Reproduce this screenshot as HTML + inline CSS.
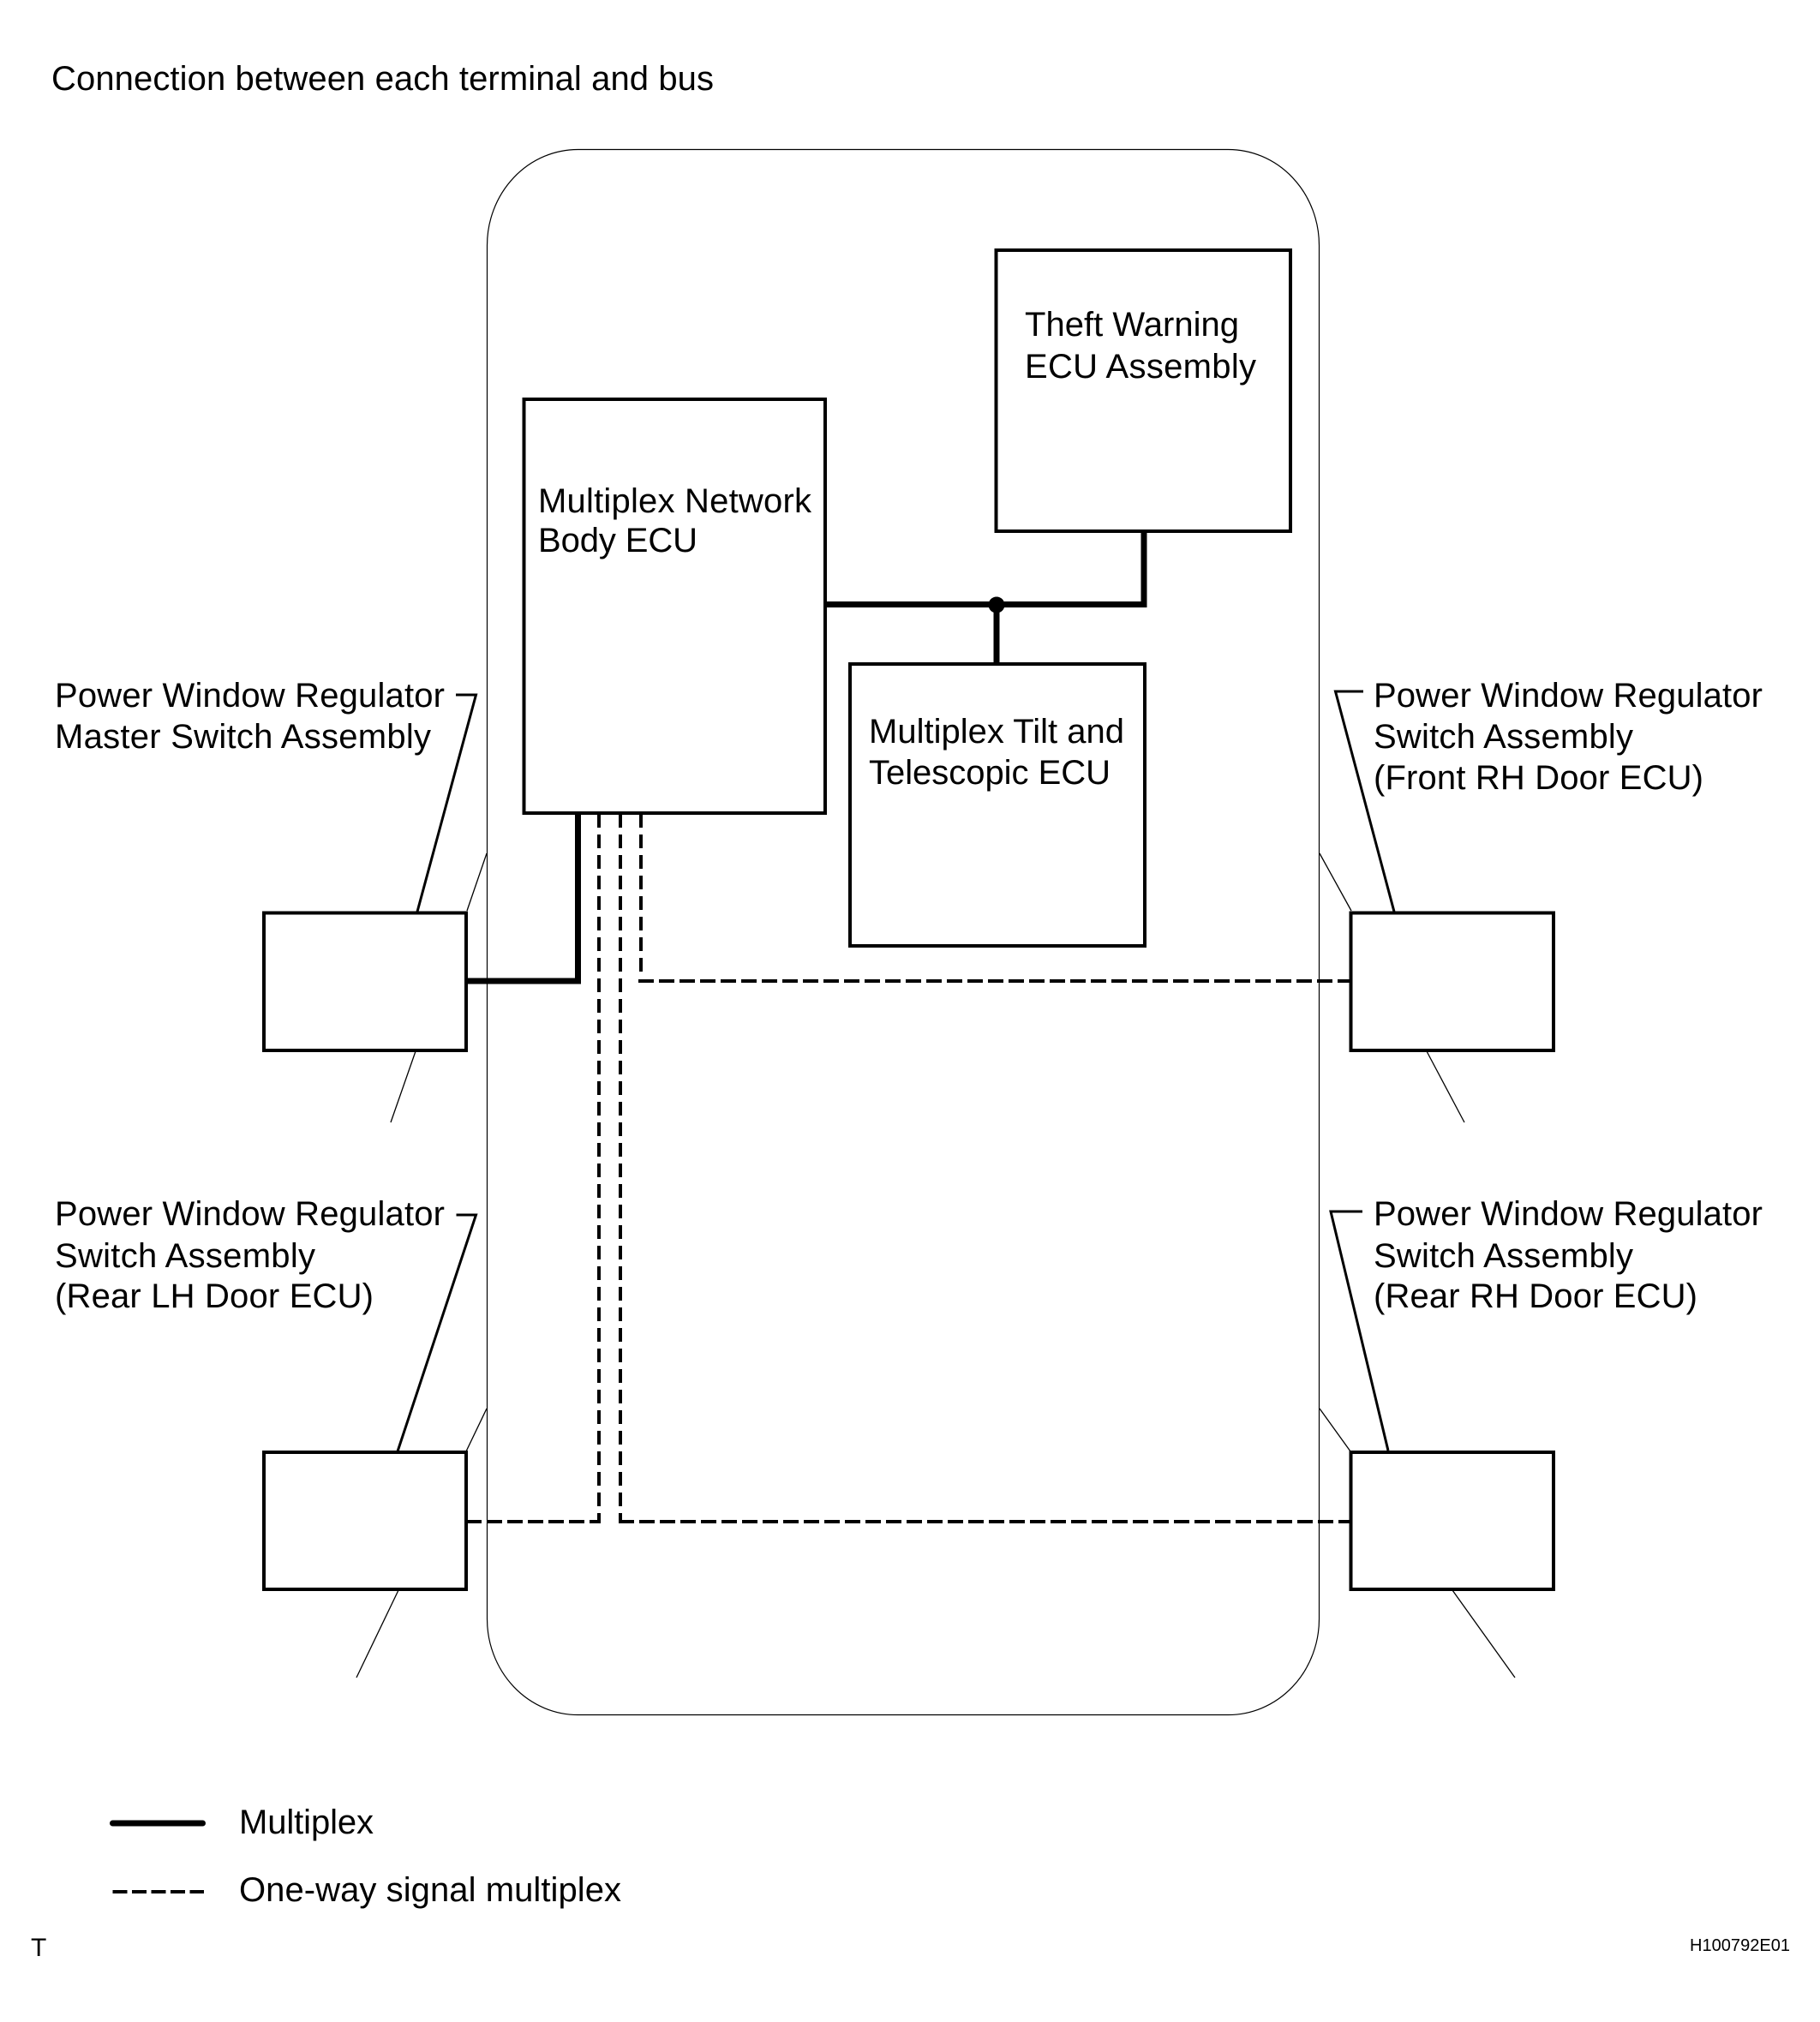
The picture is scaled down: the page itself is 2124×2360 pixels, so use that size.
<!DOCTYPE html>
<html lang="en">
<head>
<meta charset="utf-8">
<title>Connection between each terminal and bus</title>
<style>
html,body{margin:0;padding:0;background:#fff}
svg{display:block}
text{font-family:"Liberation Sans",Arial,sans-serif;font-size:40px;fill:#000}
</style>
</head>
<body>
<svg xmlns="http://www.w3.org/2000/svg" width="2124" height="2360" viewBox="0 0 2124 2360">
<rect width="2124" height="2360" fill="#fff"/>
<text x="60" y="105" textLength="773">Connection between each terminal and bus</text>

<!-- Vehicle outline -->
<rect x="568.5" y="174.5" width="971" height="1827" rx="106" ry="112" fill="none" stroke="#000" stroke-width="1.2"/>

<!-- Mirrors / door lines -->
<g stroke="#000" stroke-width="1.3" fill="none">
<line x1="545" y1="1063" x2="568" y2="996"/>
<line x1="1540" y1="996" x2="1577" y2="1063"/>
<line x1="485" y1="1227" x2="456" y2="1310"/>
<line x1="1665" y1="1227" x2="1709" y2="1310"/>
<line x1="568" y1="1644" x2="544" y2="1694"/>
<line x1="1540" y1="1644" x2="1576" y2="1694"/>
<line x1="465" y1="1856" x2="416" y2="1958"/>
<line x1="1695" y1="1856" x2="1768" y2="1958"/>
</g>

<!-- Leader lines -->
<g stroke="#000" stroke-width="3" fill="none">
<polyline points="532,811 555.5,811 487,1064"/>
<polyline points="1591,807 1558.5,807 1627,1064"/>
<polyline points="532.5,1418 555.5,1418 464,1694"/>
<polyline points="1590,1414 1553,1414 1620,1693"/>
</g>

<!-- Thick multiplex lines -->
<g stroke="#000" stroke-width="7" fill="none">
<polyline points="963,705.5 1335,705.5 1335,620"/>
<line x1="1163" y1="705" x2="1163" y2="775"/>
<polyline points="544,1145 674.5,1145 674.5,949"/>
</g>
<circle cx="1163" cy="706" r="9.5" fill="#000"/>

<!-- Dashed one-way lines -->
<g stroke="#000" stroke-width="4" fill="none" stroke-dasharray="16 8">
<line x1="699" y1="950" x2="699" y2="1776"/>
<line x1="724" y1="950" x2="724" y2="1776"/>
<line x1="748" y1="950" x2="748" y2="1135"/>
</g>
<g stroke="#000" stroke-width="4" fill="none" stroke-dasharray="18 6">
<line x1="745" y1="1145" x2="1577" y2="1145"/>
<line x1="544" y1="1776" x2="701" y2="1776"/>
<line x1="722" y1="1776" x2="1577" y2="1776"/>
</g>

<!-- Boxes -->
<g stroke="#000" stroke-width="4" fill="#fff">
<rect x="1162.5" y="292" width="343.5" height="328" fill="none"/>
<rect x="611.5" y="466" width="351.5" height="483" fill="none"/>
<rect x="992" y="775" width="344" height="329" fill="none"/>
<rect x="308" y="1065.5" width="236" height="160.5"/>
<rect x="1576.5" y="1065.5" width="236.5" height="160.5"/>
<rect x="308" y="1695" width="236" height="160"/>
<rect x="1576.5" y="1695" width="236.5" height="160"/>
</g>

<!-- Box labels -->
<text x="1196" y="392" textLength="250">Theft Warning</text>
<text x="1196" y="441" textLength="270">ECU Assembly</text>
<text x="628" y="598" textLength="319">Multiplex Network</text>
<text x="628" y="644" textLength="186">Body ECU</text>
<text x="1014" y="867" textLength="298">Multiplex Tilt and</text>
<text x="1014" y="915" textLength="282">Telescopic ECU</text>

<!-- Left labels -->
<text x="64" y="825" textLength="455">Power Window Regulator</text>
<text x="64" y="873" textLength="439">Master Switch Assembly</text>
<text x="64" y="1430" textLength="455">Power Window Regulator</text>
<text x="64" y="1479" textLength="304">Switch Assembly</text>
<text x="64" y="1526" textLength="372">(Rear LH Door ECU)</text>

<!-- Right labels -->
<text x="1603" y="825" textLength="454">Power Window Regulator</text>
<text x="1603" y="873" textLength="303">Switch Assembly</text>
<text x="1603" y="921" textLength="385">(Front RH Door ECU)</text>
<text x="1603" y="1430" textLength="454">Power Window Regulator</text>
<text x="1603" y="1479" textLength="303">Switch Assembly</text>
<text x="1603" y="1526" textLength="378">(Rear RH Door ECU)</text>

<!-- Legend -->
<line x1="131.5" y1="2128" x2="236.5" y2="2128" stroke="#000" stroke-width="7" stroke-linecap="round"/>
<line x1="131.5" y1="2208" x2="238" y2="2208" stroke="#000" stroke-width="4" stroke-dasharray="17 5.5"/>
<text x="279" y="2140" textLength="157">Multiplex</text>
<text x="279" y="2219" textLength="446">One-way signal multiplex</text>

<text x="36" y="2283" style="font-size:30px">T</text>
<text x="1972" y="2277" style="font-size:20px" textLength="117">H100792E01</text>
</svg>
</body>
</html>
